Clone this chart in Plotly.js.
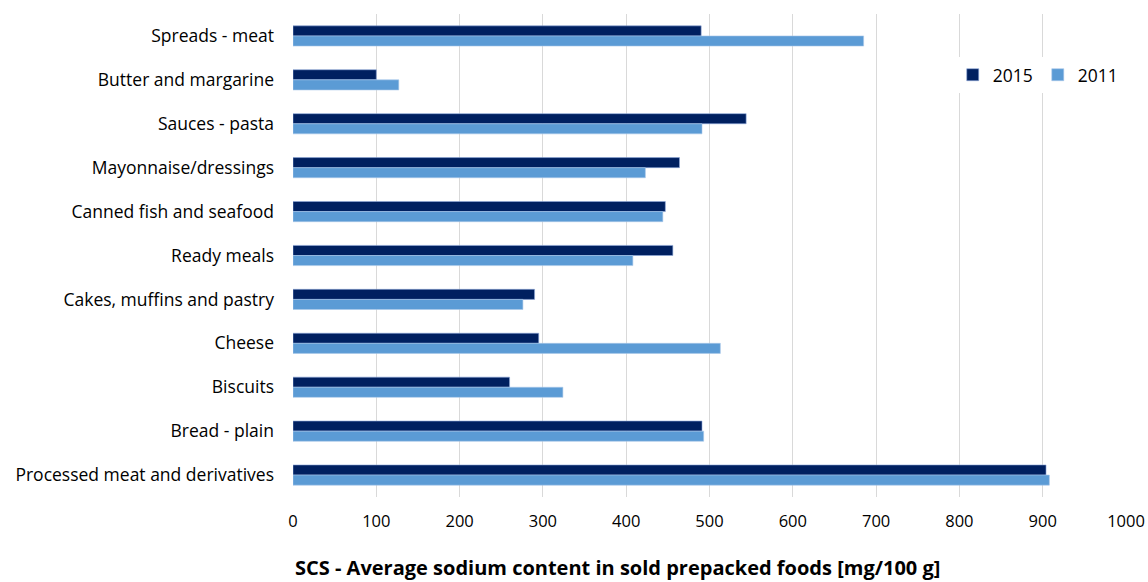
<!DOCTYPE html>
<html>
<head>
<meta charset="utf-8">
<script src="https://cdn.plot.ly/plotly-3.0.1.min.js"></script>
<style>html,body{margin:0;padding:0;background:#fff;}#chart{width:1148px;height:582px;}</style>
</head>
<body>
<div id="chart"></div>
<script>
const categories = [
  "Spreads - meat",
  "Butter and margarine",
  "Sauces - pasta",
  "Mayonnaise/dressings",
  "Canned fish and seafood",
  "Ready meals",
  "Cakes, muffins and pastry",
  "Cheese",
  "Biscuits",
  "Bread - plain",
  "Processed meat and derivatives"
];
const values2015 = [490, 100, 544, 464, 447, 456, 290, 295, 260, 491, 904];
const values2011 = [685, 127, 491, 423, 444, 408, 276, 513, 324, 493, 908];
const xTicks = [0, 100, 200, 300, 400, 500, 600, 700, 800, 900, 1000];
const xTitle = "SCS - Average sodium content in sold prepacked foods [mg/100 g]";

const FONT = "'Open Sans', 'Noto Sans', sans-serif";

const traces = [
  {
    type: "bar", orientation: "h", name: "2015",
    y: categories, x: values2015,
    marker: {color: "#002060", line: {color: "#8faadc", width: 0.6}}
  },
  {
    type: "bar", orientation: "h", name: "2011",
    y: categories, x: values2011,
    marker: {color: "#5b9bd5", line: {color: "#a9c8ea", width: 0.6}}
  }
];

const layout = {
  width: 1148, height: 582,
  margin: {l: 293, r: 22, t: 14, b: 85},
  paper_bgcolor: "#ffffff", plot_bgcolor: "#ffffff",
  font: {family: FONT, size: 16, color: "#000000"},
  barmode: "group", bargap: 0.54, bargroupgap: 0,
  showlegend: true,
  legend: {
    orientation: "h", x: 0.792, y: 0.874, xanchor: "left", yanchor: "middle",
    bgcolor: "#ffffff", font: {family: FONT, size: 17.5, color: "#000"},
    traceorder: "normal", itemwidth: 30
  },
  xaxis: {
    range: [0, 1000], tickvals: xTicks, ticktext: xTicks.map(String),
    showgrid: true, gridcolor: "#d9d9d9", gridwidth: 1,
    zeroline: false, showline: false, ticks: "",
    ticklabelstandoff: 12,
    tickfont: {family: FONT, size: 16.5, color: "#000"}
  },
  yaxis: {
    type: "category", autorange: "reversed",
    showgrid: false, zeroline: false, showline: false, ticks: "",
    ticklabelstandoff: 18,
    tickfont: {family: FONT, size: 17.5, color: "#000"}
  },
  annotations: [{
    text: "<b>" + xTitle + "</b>",
    xref: "paper", yref: "paper", x: 0.389, y: -0.145,
    xanchor: "center", yanchor: "middle", showarrow: false,
    font: {family: FONT, size: 20, color: "#000"}
  }]
};

Plotly.newPlot("chart", traces, layout, {displayModeBar: false, staticPlot: true});
</script>
</body>
</html>
